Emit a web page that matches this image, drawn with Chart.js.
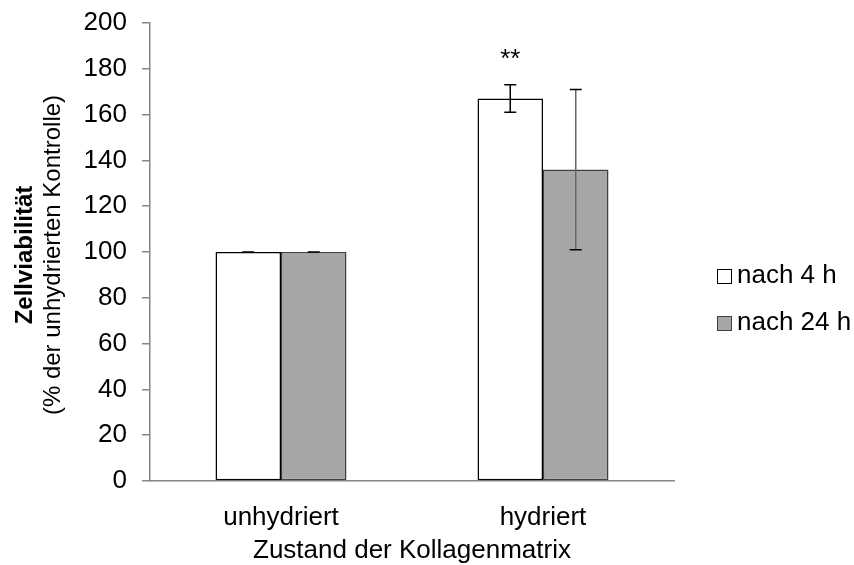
<!DOCTYPE html>
<html>
<head>
<meta charset="utf-8">
<script src="https://cdn.jsdelivr.net/npm/chart.js@4.4.1/dist/chart.umd.min.js"></script>
<style>
  html, body { margin: 0; padding: 0; background: #fff; }
  #wrap { width: 854px; height: 565px; position: relative; }
</style>
</head>
<body>
<div id="wrap"><canvas id="myChart" width="854" height="565"></canvas></div>
<script>
const categories = ["unhydriert", "hydriert"];
const seriesNames = ["nach 4 h", "nach 24 h"];
const values4h = [100, 167];
const values24h = [100, 136];
const err4h = [0, 6];
const err24h = [0, 35];
const marks4h = ["", "**"];
const yMin = 0;
const yMax = 200;
const yStep = 20;
const yTitleBold = "Zellviabilität";
const yTitleRest = "(% der unhydrierten Kontrolle)";
const xTitle = "Zustand der Kollagenmatrix";

const FONT = "'Liberation Sans', Arial, sans-serif";
const SIZE = 26;
const fillColors = ["#ffffff", "#a6a6a6"];
const edgeColors = ["#000000", "#404040"];
const errLineColors = ["#000000", "#666666"];
const errors = [err4h, err24h];
const marks = [marks4h, []];

// error bars, significance stars, axis titles and legend
const extras = {
  id: "extras",
  afterDatasetsDraw(chart) {
    const ctx = chart.ctx;
    const y = chart.scales.y;
    ctx.save();
    chart.data.datasets.forEach((ds, i) => {
      const meta = chart.getDatasetMeta(i);
      meta.data.forEach((bar, j) => {
        const v = ds.data[j];
        const e = errors[i][j];
        const top = y.getPixelForValue(v + e);
        const bot = y.getPixelForValue(v - e);
        ctx.lineWidth = 1.5;
        ctx.strokeStyle = errLineColors[i];
        ctx.beginPath();
        ctx.moveTo(bar.x, top);
        ctx.lineTo(bar.x, bot);
        ctx.stroke();
        ctx.strokeStyle = "#000";
        ctx.beginPath();
        ctx.moveTo(bar.x - 6, top);
        ctx.lineTo(bar.x + 6, top);
        ctx.moveTo(bar.x - 6, bot);
        ctx.lineTo(bar.x + 6, bot);
        ctx.stroke();
        const m = marks[i][j];
        if (m) {
          ctx.fillStyle = "#000";
          ctx.font = SIZE + "px " + FONT;
          ctx.textAlign = "center";
          ctx.textBaseline = "alphabetic";
          ctx.fillText(m, bar.x, top - 18);
        }
      });
    });
    ctx.restore();
  },
  afterDraw(chart) {
    const ctx = chart.ctx;
    const area = chart.chartArea;
    ctx.save();
    ctx.fillStyle = "#000";
    ctx.textBaseline = "middle";
    // y title, two lines
    ctx.save();
    ctx.translate(25, 255);
    ctx.rotate(-Math.PI / 2);
    ctx.textAlign = "center";
    ctx.font = "bold 24px " + FONT;
    ctx.fillText(yTitleBold, 0, 0);
    ctx.translate(0, 28);
    ctx.font = "24px " + FONT;
    ctx.fillText(yTitleRest, 0, 0);
    ctx.restore();
    // x title
    ctx.textAlign = "center";
    ctx.textBaseline = "alphabetic";
    ctx.font = SIZE + "px " + FONT;
    ctx.fillText(xTitle, (area.left + area.right) / 2, 558);
    // legend
    ctx.textAlign = "left";
    seriesNames.forEach((name, i) => {
      const by = 269 + i * 47;
      ctx.fillStyle = fillColors[i];
      ctx.fillRect(717, by, 14, 14);
      ctx.lineWidth = 1;
      ctx.strokeStyle = edgeColors[i];
      ctx.strokeRect(717.5, by + 0.5, 14, 14);
      ctx.fillStyle = "#000";
      ctx.fillText(name, 737, by + 14);
    });
    ctx.restore();
  }
};

const ctx = document.getElementById("myChart");
new Chart(ctx, {
  type: "bar",
  data: {
    labels: categories,
    datasets: [
      {
        label: seriesNames[0],
        data: values4h,
        backgroundColor: fillColors[0],
        borderColor: edgeColors[0],
        borderWidth: 1.5,
        borderSkipped: false,
      },
      {
        label: seriesNames[1],
        data: values24h,
        backgroundColor: fillColors[1],
        borderColor: edgeColors[1],
        borderWidth: 1.5,
        borderSkipped: false,
      },
    ],
  },
  options: {
    responsive: false,
    animation: false,
    events: [],
    categoryPercentage: 0.5,
    barPercentage: 1.0,
    layout: { padding: { top: 23, right: 180, left: 0, bottom: 0 } },
    plugins: { legend: { display: false }, tooltip: { enabled: false } },
    scales: {
      x: {
        grid: { display: false, drawTicks: false },
        border: { display: true, color: "#868686", width: 1.5 },
        ticks: { color: "#000", font: { family: FONT, size: SIZE }, padding: 21 },
        afterFit(scale) { scale.height = 84; },
      },
      y: {
        min: yMin,
        max: yMax,
        grid: { drawOnChartArea: false, drawTicks: true, tickLength: 8, color: "#868686", lineWidth: 1.5 },
        border: { display: true, color: "#868686", width: 1.5 },
        ticks: { stepSize: yStep, color: "#000", font: { family: FONT, size: SIZE }, padding: 15 },
        afterFit(scale) {
          scale.width = 150;
          scale.paddingTop = 0;
          scale.paddingBottom = 0;
        },
      },
    },
  },
  plugins: [extras],
});
</script>
</body>
</html>
